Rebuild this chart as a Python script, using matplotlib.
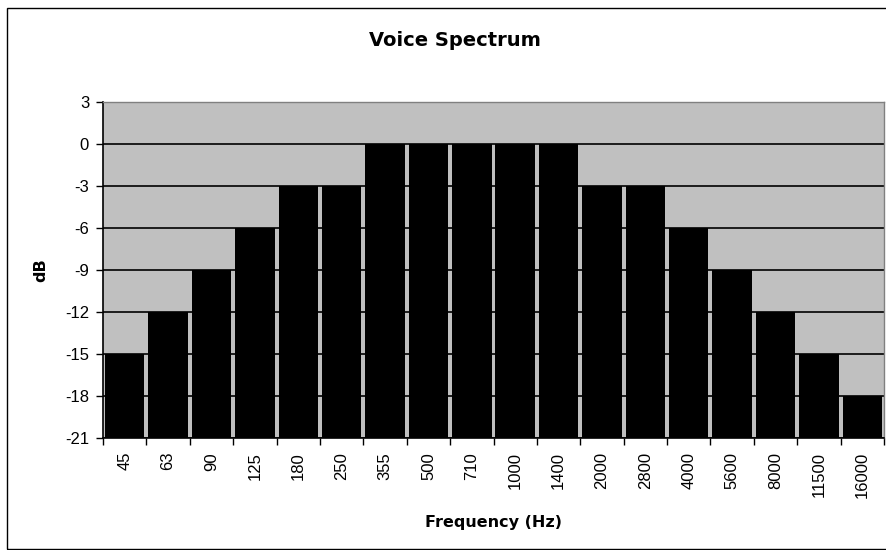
import numpy as np
import matplotlib.pyplot as plt
from matplotlib.patches import Rectangle

plt.rcParams['font.family'] = ['Liberation Sans', 'DejaVu Sans']

# data
freqs = ['45', '63', '90', '125', '180', '250', '355', '500', '710', '1000',
         '1400', '2000', '2800', '4000', '5600', '8000', '11500', '16000']
levels = [-15, -12, -9, -6, -3, -3, 0, 0, 0, 0, 0, -3, -3, -6, -9, -12, -15, -18]
yticks = [3, 0, -3, -6, -9, -12, -15, -18, -21]

floor = -21

fig = plt.figure(figsize=(8.86, 5.5), dpi=100)
ax = fig.add_axes([103 / 886, 1 - 438 / 550, 781 / 886, 336 / 550])

x = np.arange(len(freqs))
heights = [v - floor for v in levels]
ax.bar(x, heights, bottom=floor, width=0.91, color='black', zorder=3)

ax.set_facecolor('#c0c0c0')
ax.set_xlim(-0.5, len(freqs) - 0.5)
ax.set_ylim(-21, 3)
ax.set_yticks(yticks)
ax.set_yticklabels([str(t) for t in yticks], fontsize=12)
ax.yaxis.grid(True, color='black', linewidth=1.2, zorder=1)
ax.set_axisbelow(True)

# category labels at centres, tick marks at boundaries
ax.set_xticks(x)
ax.set_xticklabels(freqs, rotation=90, fontsize=12)
ax.tick_params(axis='x', length=0, pad=10)
ax.set_xticks(np.arange(len(freqs) + 1) - 0.5, minor=True)
ax.tick_params(axis='x', which='minor', length=5, width=1, direction='out')
ax.tick_params(axis='y', length=5, width=1, direction='out', pad=5)

for s in ['left', 'bottom']:
    ax.spines[s].set_color('black')
    ax.spines[s].set_linewidth(1.2)
for s in ['top', 'right']:
    ax.spines[s].set_color('#808080')
    ax.spines[s].set_linewidth(1)

bold = dict(family=['DejaVu Sans'], fontweight='bold')
ax.set_ylabel('dB', fontsize=11.5, va='center', **bold)
ax.yaxis.set_label_coords((41 - 103) / 781, 0.5)
ax.set_xlabel('Frequency (Hz)', fontsize=11.5, va='center', **bold)
ax.xaxis.set_label_coords(0.5, (438 - 523) / 336)
fig.text(455 / 886, 1 - 41 / 550, 'Voice Spectrum', ha='center', va='center',
         fontsize=14, **bold)

# chart area border (right side runs off the image)
fig.patches.append(Rectangle((7 / 886, 1 / 550), 1.0, 541 / 550,
                             transform=fig.transFigure, fill=False,
                             edgecolor='black', linewidth=1))

fig.savefig('out.png', dpi=100)
